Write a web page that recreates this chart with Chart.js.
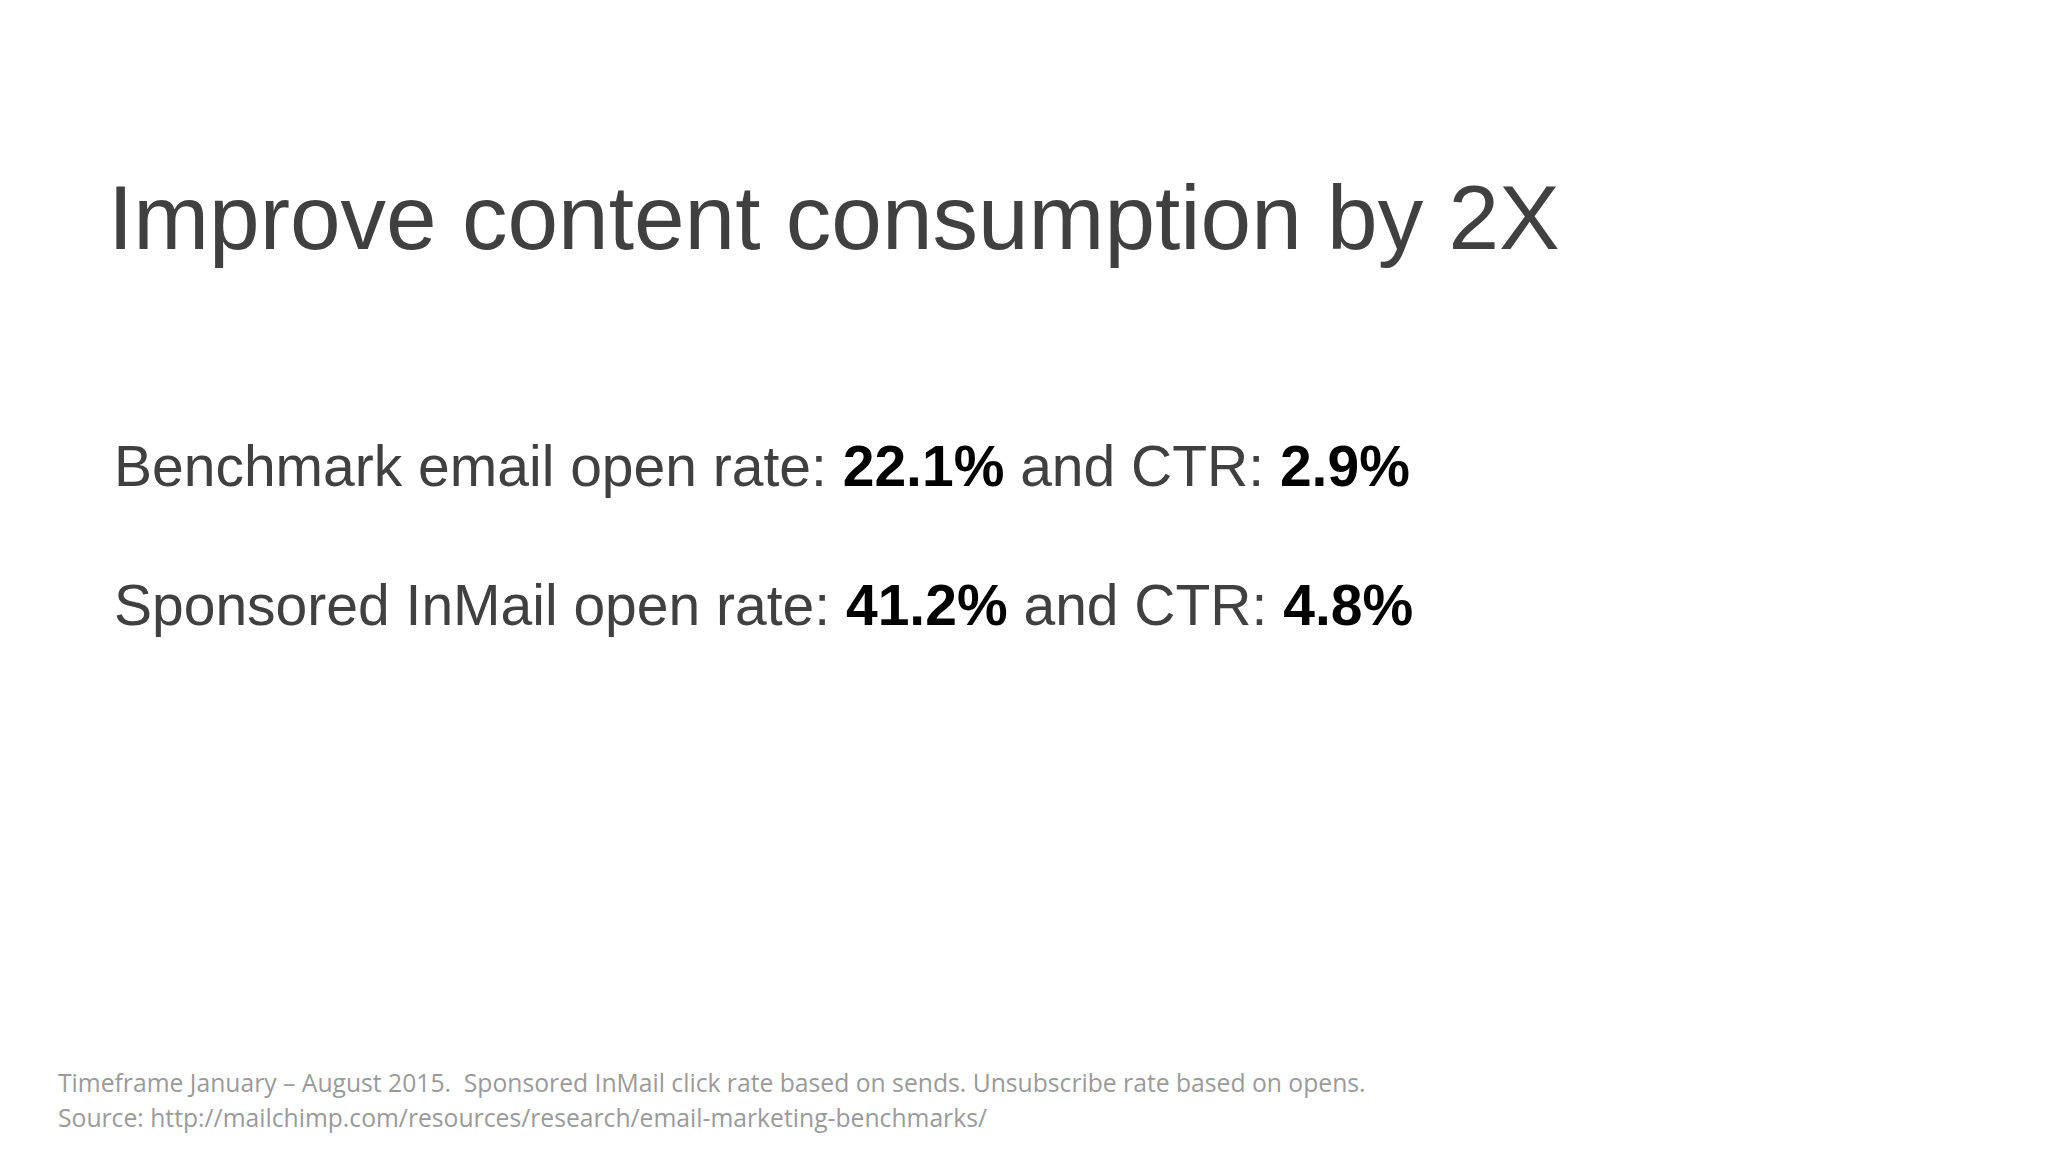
<!DOCTYPE html>
<html><head><meta charset="utf-8">
<script src="https://cdn.jsdelivr.net/npm/chart.js@4/dist/chart.umd.min.js"></script>
<style>
html,body{margin:0;padding:0;background:#fff;width:2048px;height:1152px;overflow:hidden;font-family:"Liberation Sans",Arial,sans-serif}
#c{position:absolute;left:0;top:0;width:2048px;height:1152px}
.t{position:absolute;white-space:nowrap;color:#404040}
#title{left:108px;top:172px;font-size:91px;line-height:1}
.l{left:114px;font-size:57px;line-height:1}
.l b{color:#000}
#l1{top:438px}#l2{top:577px}
.f{left:58px;font-family:"Open Sans",sans-serif;font-size:24.7px;color:#9a9a9a;line-height:1}
#f1{top:1071px}#f2{top:1106px}
</style></head><body>
<canvas id="c"></canvas>
<div class="t" id="title">Improve content consumption by 2X</div>
<div class="t l" id="l1"></div>
<div class="t l" id="l2"></div>
<div class="t f" id="f1">Timeframe January – August 2015.&nbsp; Sponsored InMail click rate based on sends. Unsubscribe rate based on opens.</div>
<div class="t f" id="f2">Source: http://mailchimp.com/resources/research/email-marketing-benchmarks/</div>
<script>
const categories = ["Benchmark email", "Sponsored InMail"];
const openRates = [22.1, 41.2];
const ctrs = [2.9, 4.8];
document.getElementById('l1').innerHTML = categories[0] + ' open rate: <b>' + openRates[0] + '%</b> and CTR: <b>' + ctrs[0] + '%</b>';
document.getElementById('l2').innerHTML = categories[1] + ' open rate: <b>' + openRates[1] + '%</b> and CTR: <b>' + ctrs[1] + '%</b>';
new Chart(document.getElementById('c'), {
  type: 'bar',
  data: { labels: categories, datasets: [
    { label: 'Open rate', data: openRates, hidden: true },
    { label: 'CTR', data: ctrs, hidden: true } ] },
  options: { responsive: false, animation: false,
    plugins: { legend: { display: false }, tooltip: { enabled: false } },
    scales: { x: { display: false }, y: { display: false } } }
});
</script>
</body></html>
